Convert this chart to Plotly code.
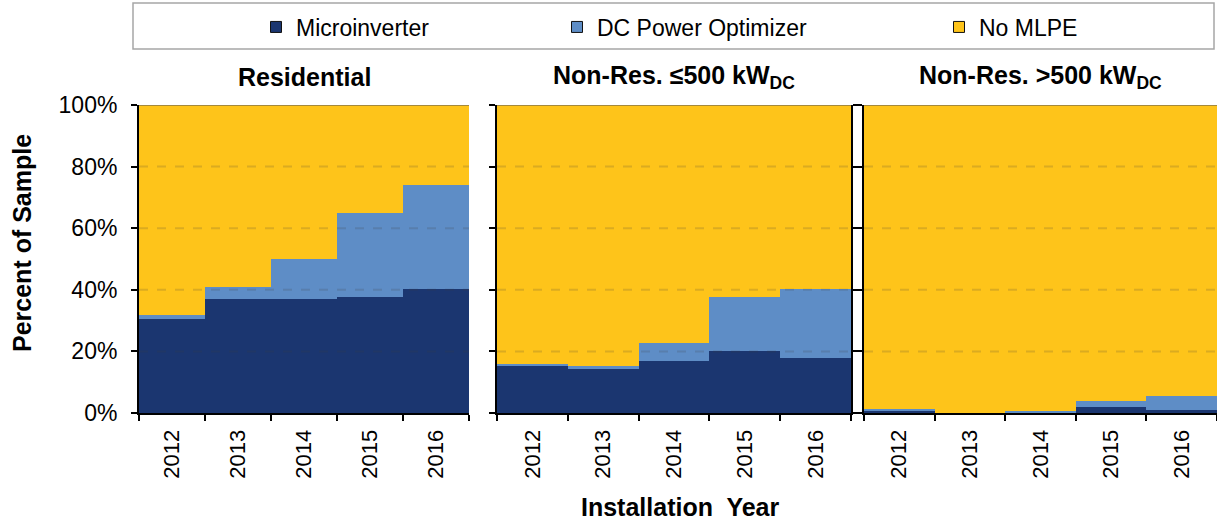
import plotly.graph_objects as go

# data (percent of sample)
years = ["2012", "2013", "2014", "2015", "2016"]
panels = ["Residential", "Non-Res. \u2264500 kW<sub>DC</sub>", "Non-Res. >500 kW<sub>DC</sub>"]
series = ["Microinverter", "DC Power Optimizer", "No MLPE"]

res_micro = [30.5, 37.0, 37.0, 37.8, 40.3]
res_dc = [1.2, 3.8, 13.0, 27.0, 33.7]
small_micro = [15.4, 14.4, 17.0, 20.1, 18.0]
small_dc = [0.5, 0.9, 5.7, 17.7, 22.3]
large_micro = [0.9, 0.0, 0.1, 2.1, 1.0]
large_dc = [0.3, 0.1, 0.4, 1.9, 4.6]

y_ticks = [0, 20, 40, 60, 80, 100]
y_ticktext = ["%d%%" % t for t in y_ticks]

colors = ["#1b3670", "#5e8dc6", "#fec41a"]
W, H = 1217, 522
FONT = "Liberation Sans, Arial, sans-serif"

def px_x(p):
    return p / W

def px_y(p):
    return (H - p) / H

panel_data = [
    (res_micro, res_dc),
    (small_micro, small_dc),
    (large_micro, large_dc),
]
x_domains = [(139, 469), (497, 851), (864, 1217)]

fig = go.Figure()

for i, (micro, dc) in enumerate(panel_data):
    none_ = [round(100 - m - d, 2) for m, d in zip(micro, dc)]
    xa = "x" if i == 0 else "x%d" % (i + 1)
    ya = "y" if i == 0 else "y%d" % (i + 1)
    for name, vals, col in zip(series, [micro, dc, none_], colors):
        fig.add_trace(go.Bar(x=years, y=vals, name=name, marker=dict(color=col, line=dict(width=0)),
                             width=1, showlegend=False, xaxis=xa, yaxis=ya))

# legend-only traces (square markers with dark outline)
for k, (name, col) in enumerate(zip(series, colors)):
    fig.add_trace(go.Scatter(x=[None], y=[None], mode="markers", name=name,
                             marker=dict(symbol="square", size=11, color=col,
                                         line=dict(color="#111111", width=1)),
                             legend="legend" if k == 0 else "legend%d" % (k + 1)))

legend_pos = [278, 579, 961]
legend_common = dict(orientation="h", yanchor="middle", y=px_y(27), xanchor="left",
                     font=dict(family=FONT, size=23, color="#000000"),
                     bgcolor="rgba(0,0,0,0)", itemwidth=30)
fig.update_layout(
    legend=dict(x=px_x(legend_pos[0] - 22), **legend_common),
    legend2=dict(x=px_x(legend_pos[1] - 22), **legend_common),
    legend3=dict(x=px_x(legend_pos[2] - 22), **legend_common),
)

axis_line = dict(showline=True, linecolor="#000000", linewidth=2, ticks="outside",
                 tickwidth=1.5, tickcolor="#000000", showgrid=False, zeroline=False)

for i in range(3):
    xkey = "xaxis" if i == 0 else "xaxis%d" % (i + 1)
    ykey = "yaxis" if i == 0 else "yaxis%d" % (i + 1)
    xa = "x" if i == 0 else "x%d" % (i + 1)
    ya = "y" if i == 0 else "y%d" % (i + 1)
    d0, d1 = x_domains[i]
    fig.layout[xkey] = dict(domain=[px_x(d0), px_x(d1)], anchor=ya, type="category",
                            range=[-0.5, 4.5], tickson="boundaries", tickangle=-90,
                            automargin=False, ticklen=6, ticklabelstandoff=6,
                            tickfont=dict(family=FONT, size=22, color="#000000"), **axis_line)
    fig.layout[ykey] = dict(domain=[px_y(413), px_y(105)], anchor=xa, range=[0, 100],
                            tickmode="array", tickvals=y_ticks, ticktext=y_ticktext,
                            showticklabels=(i == 0), automargin=False,
                            ticklen=6, ticklabelstandoff=9,
                            mirror="ticks" if i == 1 else False,
                            tickfont=dict(family=FONT, size=23, color="#000000"), **axis_line)
    # dashed gridlines drawn over the filled areas
    for t in y_ticks[1:]:
        fig.add_shape(type="line", xref=xa + " domain", yref=ya, x0=0, x1=1, y0=t, y1=t,
                      layer="above",
                      line=dict(color="rgba(90,90,90,0.55)" if t == 100 else "rgba(60,60,60,0.18)",
                                width=2, dash="solid" if t == 100 else "dash"))
    fig.add_annotation(text="<b>%s</b>" % panels[i], xref=xa + " domain", x=0.5,
                       yref="paper", y=px_y(77), xanchor="center", yanchor="middle",
                       showarrow=False, font=dict(family=FONT, size=25, color="#000000"))

fig.add_annotation(text="<b>Percent of Sample</b>", textangle=-90, xref="paper", x=px_x(22),
                   yref="paper", y=px_y(243), xanchor="center", yanchor="middle",
                   showarrow=False, font=dict(family=FONT, size=25, color="#000000"))
fig.add_annotation(text="<b>Installation  Year</b>", xref="paper", x=px_x(680),
                   yref="paper", y=px_y(507), xanchor="center", yanchor="middle",
                   showarrow=False, font=dict(family=FONT, size=25, color="#000000"))

# legend frame
fig.add_shape(type="rect", xref="paper", yref="paper", x0=px_x(133), x1=px_x(1214),
              y0=px_y(49), y1=px_y(3), line=dict(color="#a6a6a6", width=1.5))

fig.update_layout(width=W, height=H, barmode="stack", bargap=0,
                  margin=dict(l=0, r=0, t=0, b=0, autoexpand=False),
                  paper_bgcolor="#ffffff", plot_bgcolor="#ffffff",
                  font=dict(family=FONT, color="#000000"))

fig.write_html("out.html", config={"displayModeBar": False},
               post_script="document.body.style.margin='0px';")
